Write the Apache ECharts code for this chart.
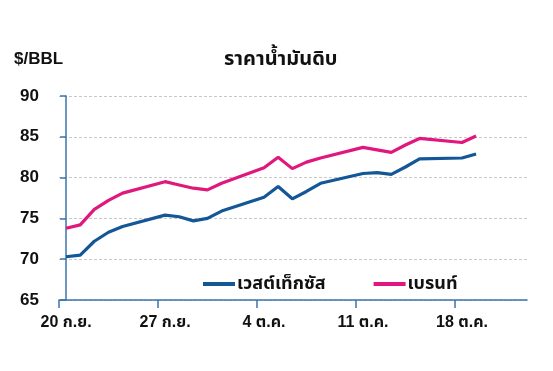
<!DOCTYPE html>
<html><head><meta charset="utf-8">
<script src="https://cdn.jsdelivr.net/npm/echarts@6/dist/echarts.min.js"></script>
<style>html,body{margin:0;padding:0;background:#fff}#c{width:553px;height:371px}</style>
</head><body><div id="c"></div>
<script>
const startDate = '2021-09-20';
const dates = ['2021-09-20','2021-09-21','2021-09-22','2021-09-23','2021-09-24',
  '2021-09-27','2021-09-28','2021-09-29','2021-09-30','2021-10-01',
  '2021-10-04','2021-10-05','2021-10-06','2021-10-07','2021-10-08',
  '2021-10-11','2021-10-12','2021-10-13','2021-10-14','2021-10-15',
  '2021-10-18','2021-10-19'];
const wti   = [70.3,70.5,72.2,73.3,74.0,75.4,75.2,74.7,75.0,75.9,77.6,78.9,77.4,78.3,79.3,80.5,80.6,80.4,81.3,82.3,82.4,82.9];
const brent = [73.8,74.2,76.1,77.2,78.1,79.5,79.1,78.7,78.5,79.3,81.2,82.5,81.1,81.9,82.4,83.7,83.4,83.1,84.0,84.8,84.3,85.1];
const tickLabels = ['20 ก.ย.','27 ก.ย.','4 ต.ค.','11 ต.ค.','18 ต.ค.'];
const tickDays = [0,7,14,21,28];
const seriesNames = ['เวสต์เท็กซัส','เบรนท์'];
const titleText = 'ราคาน้ำมันดิบ';
const unitText = '$/BBL';

const DAY = 86400000;
const dayIdx = d => Math.round((Date.parse(d) - Date.parse(startDate)) / DAY);
const FONT = "'Liberation Sans', Arial, 'Noto Sans Thai', 'Noto Sans', sans-serif";
const BLUE = '#135797', PINK = '#e0187e', AXIS = '#3a74ad';

const chart = echarts.init(document.getElementById('c'));
chart.setOption({
  animation: false,
  title: [
    {text: titleText, left: 219, top: 44, textStyle: {fontFamily: FONT, fontSize: 20, fontWeight: 'bold', color: '#111'}},
    {text: unitText, left: 9, top: 46, textStyle: {fontFamily: FONT, fontSize: 17, fontWeight: 'bold', color: '#111'}}
  ],
  legend: {
    left: 198, top: 270, itemGap: 48, itemWidth: 32, itemHeight: 4,
    icon: 'rect',
    data: seriesNames,
    textStyle: {fontFamily: FONT, fontSize: 18, fontWeight: 'bold', color: '#111', padding: [0,0,0,-3]}
  },
  grid: {left: 59, right: 26, top: 96, bottom: 71},
  xAxis: {
    type: 'value', min: -0.5, max: 32.6,
    axisLine: {show: true, lineStyle: {color: AXIS, width: 1.5}},
    axisTick: {show: true, length: 8, lineStyle: {color: AXIS, width: 1.5}, customValues: tickDays.map(d => d - 0.5)},
    axisLabel: {customValues: tickDays, formatter: v => tickLabels[tickDays.indexOf(Math.round(v))] || '',
      fontFamily: FONT, fontSize: 16, fontWeight: 'bold', color: '#111', margin: 15},
    splitLine: {show: false}
  },
  yAxis: {
    type: 'value', min: 65, max: 90, interval: 5,
    axisLine: {show: true, lineStyle: {color: AXIS, width: 1.5}},
    axisTick: {show: true, length: 6, lineStyle: {color: AXIS, width: 1.5}},
    axisLabel: {fontFamily: FONT, fontSize: 17, fontWeight: 'bold', color: '#111', margin: 20},
    splitLine: {show: true, lineStyle: {color: '#c8c8c8', type: [3, 2], width: 1}}
  },
  series: [
    {name: seriesNames[0], type: 'line', showSymbol: false, color: BLUE, lineStyle: {width: 3.2, color: BLUE},
      data: dates.map((d, i) => [dayIdx(d), wti[i]])},
    {name: seriesNames[1], type: 'line', showSymbol: false, color: PINK, lineStyle: {width: 3.2, color: PINK},
      data: dates.map((d, i) => [dayIdx(d), brent[i]])}
  ]
});
</script></body></html>
